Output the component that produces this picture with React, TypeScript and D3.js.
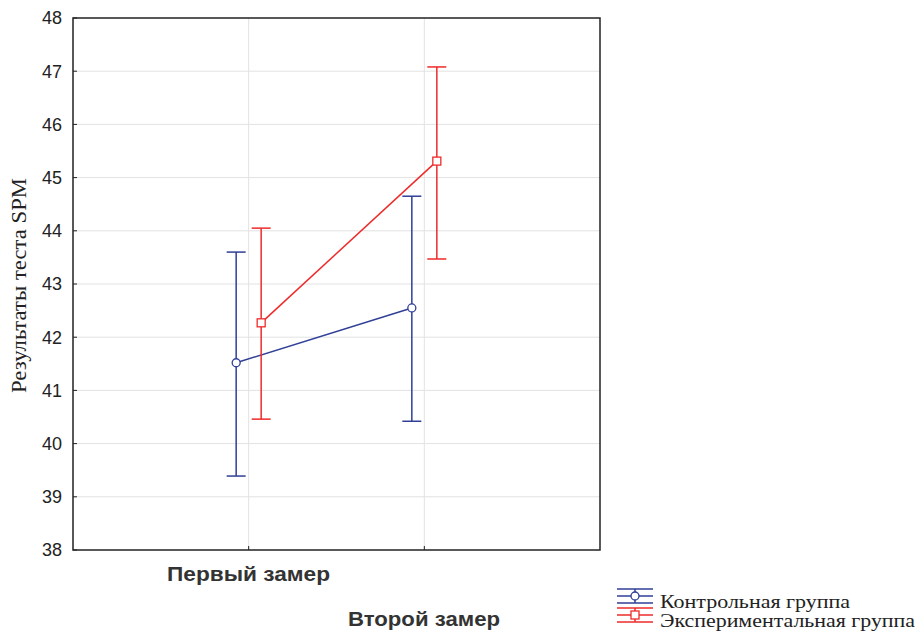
import React from "react";
import * as d3 from "d3";

const categories = ["Первый замер", "Второй замер"];
const seriesNames = ["Контрольная группа", "Экспериментальная группа"];
const controlMean = [41.52, 42.55];
const controlLow = [39.39, 40.42];
const controlHigh = [43.6, 44.65];
const expMean = [42.27, 45.31];
const expLow = [40.46, 43.47];
const expHigh = [44.05, 47.08];
const yTicks = [38, 39, 40, 41, 42, 43, 44, 45, 46, 47, 48];

const BLUE = "#2f3f96";
const RED = "#ee2a2a";

export default function App() {
  const W = 921, H = 638;
  const left = 73, right = 600, top = 18, bottom = 550;
  const x = d3.scalePoint<string>().domain(categories).range([left, right]).padding(1);
  const y = d3.scaleLinear().domain([38, 48]).range([bottom, top]);

  const series = [
    { name: seriesNames[0], mean: controlMean, low: controlLow, high: controlHigh, color: BLUE, offset: -12.5, marker: "circle", tl: 190 },
    { name: seriesNames[1], mean: expMean, low: expLow, high: expHigh, color: RED, offset: 12.5, marker: "square", tl: 255 },
  ];
  const line = d3.line<[number, number]>().x(d => d[0]).y(d => d[1]);
  const capW = 9.5;
  const sans = "Liberation Sans, Arial, sans-serif";
  const serif = "Liberation Serif, Times New Roman, serif";

  return (
    <svg width={W} height={H} style={{ position: "absolute", left: 0, top: 0, background: "#fff" }}>
      <rect x={0} y={0} width={W} height={H} fill="#fff" />
      {/* grid */}
      {yTicks.slice(1, -1).map(t => (
        <line key={"gy" + t} x1={left} x2={right} y1={y(t)} y2={y(t)} stroke="#e2e2e2" strokeWidth={1} />
      ))}
      {categories.map(c => (
        <line key={"gx" + c} x1={x(c)} x2={x(c)} y1={top} y2={bottom} stroke="#e2e2e2" strokeWidth={1} />
      ))}
      {/* frame */}
      <rect x={left} y={top} width={right - left} height={bottom - top} fill="none" stroke="#222" strokeWidth={1.5} />
      {/* ticks */}
      {yTicks.map(t => (
        <g key={"ty" + t}>
          <line x1={left} x2={left + 4} y1={y(t)} y2={y(t)} stroke="#222" />
          <text x={62} y={y(t)} dy="0.35em" textAnchor="end" fontFamily={sans} fontSize={18} fill="#222">{t}</text>
        </g>
      ))}
      {categories.map(c => (
        <line key={"tx" + c} x1={x(c)} x2={x(c)} y1={bottom} y2={bottom - 4} stroke="#222" />
      ))}
      {/* axis labels */}
      <text x={167} y={581} textLength={163} lengthAdjust="spacingAndGlyphs" fontFamily={sans} fontWeight="bold" fontSize={20.5} fill="#333">{categories[0]}</text>
      <text x={348} y={626} textLength={152} lengthAdjust="spacingAndGlyphs" fontFamily={sans} fontWeight="bold" fontSize={20.5} fill="#333">{categories[1]}</text>
      <text transform={`translate(26,393) rotate(-90)`} textLength={215} lengthAdjust="spacingAndGlyphs" fontFamily={serif} fontSize={21} fill="#222">Результаты теста SPM</text>
      {/* series */}
      {series.map(s => {
        const pts: [number, number][] = categories.map((c, i) => [(x(c) as number) + s.offset, y(s.mean[i])]);
        return (
          <g key={s.name}>
            <path d={line(pts) || ""} fill="none" stroke={s.color} strokeWidth={1.5} />
            {categories.map((c, i) => {
              const cx = (x(c) as number) + s.offset;
              return (
                <g key={c}>
                  <line x1={cx} x2={cx} y1={y(s.low[i])} y2={y(s.high[i])} stroke={s.color} strokeWidth={1.5} />
                  <line x1={cx - capW} x2={cx + capW} y1={y(s.low[i])} y2={y(s.low[i])} stroke={s.color} strokeWidth={1.5} />
                  <line x1={cx - capW} x2={cx + capW} y1={y(s.high[i])} y2={y(s.high[i])} stroke={s.color} strokeWidth={1.5} />
                  {s.marker === "circle" ? (
                    <circle cx={cx} cy={y(s.mean[i])} r={4} fill="#fff" stroke={s.color} strokeWidth={1.3} />
                  ) : (
                    <rect x={cx - 4} y={y(s.mean[i]) - 4} width={8} height={8} fill="#fff" stroke={s.color} strokeWidth={1.3} />
                  )}
                </g>
              );
            })}
          </g>
        );
      })}
      {/* legend */}
      {series.map((s, i) => {
        const cy = 596 + i * 19;
        const x0 = 617, x1 = 653, mx = 635;
        return (
          <g key={"lg" + s.name}>
            <line x1={x0} x2={x1} y1={cy - 7} y2={cy - 7} stroke={s.color} strokeWidth={1.5} />
            <line x1={x0} x2={x1} y1={cy} y2={cy} stroke={s.color} strokeWidth={1.5} />
            <line x1={x0} x2={x1} y1={cy + 7} y2={cy + 7} stroke={s.color} strokeWidth={1.5} />
            <line x1={mx} x2={mx} y1={cy - 7} y2={cy + 7} stroke={s.color} strokeWidth={1.5} />
            {s.marker === "circle" ? (
              <circle cx={mx} cy={cy} r={4} fill="#fff" stroke={s.color} strokeWidth={1.3} />
            ) : (
              <rect x={mx - 4} y={cy - 4} width={8} height={8} fill="#fff" stroke={s.color} strokeWidth={1.3} />
            )}
            <text x={660} y={cy + 11.5} textLength={s.tl} lengthAdjust="spacingAndGlyphs" fontFamily={serif} fontSize={18.5} fill="#222">{s.name}</text>
          </g>
        );
      })}
    </svg>
  );
}
